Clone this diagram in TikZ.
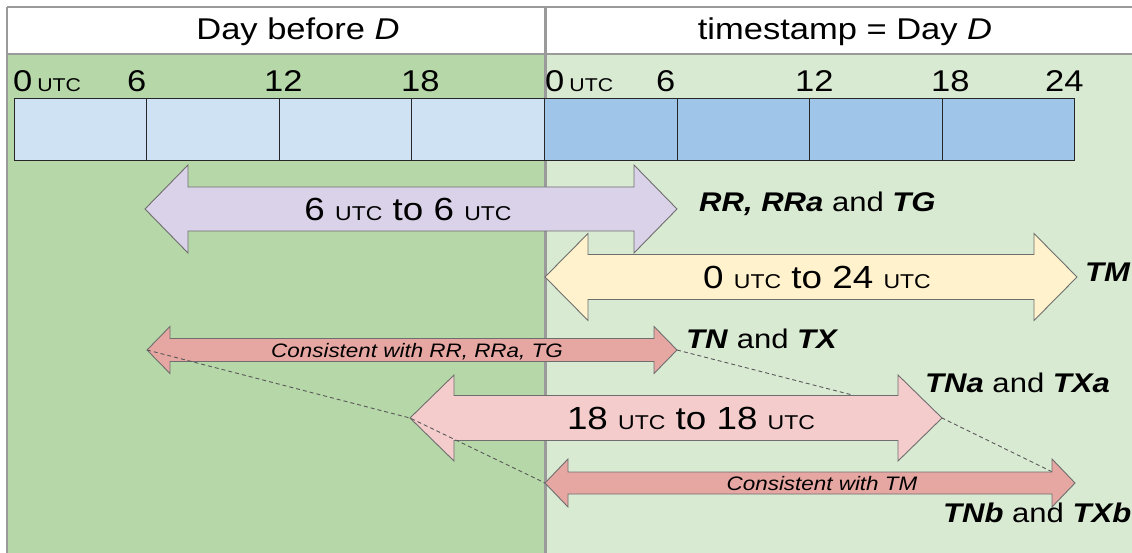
\documentclass[tikz,border=0pt]{standalone}
\usepackage{fontspec}
\setmainfont{Liberation Sans}[FakeStretch=1.15]
\definecolor{leftbg}{HTML}{B6D7A8}
\definecolor{rightbg}{HTML}{D9EAD3}
\definecolor{framegray}{HTML}{9A9A9A}
\definecolor{slotA}{HTML}{CFE2F3}
\definecolor{slotB}{HTML}{9FC5E8}
\definecolor{lilac}{HTML}{D9D2E9}
\definecolor{cream}{HTML}{FFF2CC}
\definecolor{pinkA}{HTML}{F4CCCC}
\definecolor{pinkB}{HTML}{E6A7A2}
\definecolor{edgegray}{HTML}{6E6E6E}
% double-headed block arrow: style, left tip x, right tip x, axis y, shaft half, head half, head length
\newcommand\dblarrow[7]{%
  \draw[#1] (#2,#4) -- (#2+#7,#4-#6) -- (#2+#7,#4-#5) -- (#3-#7,#4-#5)
    -- (#3-#7,#4-#6) -- (#3,#4) -- (#3-#7,#4+#6) -- (#3-#7,#4+#5)
    -- (#2+#7,#4+#5) -- (#2+#7,#4+#6) -- cycle;}
\newcommand\utc{{\fontsize{18.5}{18.5}\selectfont UTC}}
\newcommand\sutc{{\fontsize{20}{20}\selectfont UTC}}
\newcommand\bi[1]{\textbf{\textit{#1}}}
\tikzset{
  rule/.style={draw=framegray, line width=2.5pt},
  slot/.style={draw=black!85, line width=0.9pt},
  blockarrow/.style={draw=edgegray, line width=0.9pt, line join=miter},
  guide/.style={draw=black!65, line width=0.9pt, dash pattern=on 4pt off 3pt},
  hdr/.style={font=\fontsize{30}{30}\selectfont, inner sep=0pt, anchor=base},
  tick/.style={font=\fontsize{30}{30}\selectfont, inner sep=0pt, anchor=base west},
  span/.style={font=\fontsize{32}{32}\selectfont, inner sep=0pt, anchor=base},
  note/.style={font=\fontsize{19.5}{19.5}\selectfont\itshape, inner sep=0pt, anchor=base},
  tag/.style={font=\fontsize{27}{27}\selectfont, inner sep=0pt, anchor=base west},
}
\begin{document}
\begin{tikzpicture}[x=1pt, y=-1pt]
\useasboundingbox (0,0) rectangle (1132,553);
% backgrounds
\fill[white] (0,0) rectangle (1132,553);
\fill[leftbg] (7,54) rectangle (545,553);
\fill[rightbg] (545,54) rectangle (1132,553);
% frame
\draw[rule] (7,7) -- (1132,7);
\draw[rule] (7,54) -- (1132,54);
\draw[rule] (7,7) -- (7,553);
\draw[rule, line width=3pt] (545,7) -- (545,553);
% headers
\node[hdr] (dayprev) at (298,40) {Day before \textit{D}};
\node[hdr] (dayD) at (845,40) {timestamp = Day \textit{D}};
% hour slots
\foreach \i in {0,...,3} {
  \filldraw[slot, fill=slotA] ({14+\i*132.6},98) rectangle ({14+(\i+1)*132.6},160);
}
\foreach \i in {4,...,7} {
  \filldraw[slot, fill=slotB] ({14+\i*132.6},98) rectangle ({14+(\i+1)*132.6},160);
}
% hour labels
\node[tick] (t0a) at (13,92) {0\,\utc};
\node[tick] (t6a) at (127,92) {6};
\node[tick] (t12a) at (264,92) {12};
\node[tick] (t18a) at (401,92) {18};
\node[tick] (t0b) at (545,92) {0\,\utc};
\node[tick] (t6b) at (656,92) {6};
\node[tick] (t12b) at (795,92) {12};
\node[tick] (t18b) at (931,92) {18};
\node[tick] (t24b) at (1045,92) {24};
% arrow tips used by the guide lines
\coordinate (nL) at (147,350);  \coordinate (nR) at (677,350);
\coordinate (aL) at (410,418);  \coordinate (aR) at (942,418);
\coordinate (bL) at (545,483);  \coordinate (bR) at (1075,483);
% right guide lines run behind the arrows
\draw[guide] (nR) -- (aR) -- (bR);
% block arrows
\dblarrow{blockarrow, fill=lilac}{145}{677}{209}{22}{44}{43}
\dblarrow{blockarrow, fill=cream}{545}{1077}{277}{22.5}{43.5}{43}
\dblarrow{blockarrow, fill=pinkB}{147}{677}{350}{11.5}{23.5}{23}
\dblarrow{blockarrow, fill=pinkA}{410}{942}{418}{22.5}{43}{44}
\dblarrow{blockarrow, fill=pinkB}{545}{1075}{483}{11}{24}{23}
% left guide lines lie over the arrows
\draw[guide] (nL) -- (aL) -- (bL);
% arrow captions
\node[span] (s66) at (408,221) {6 \sutc{} to 6 \sutc};
\node[span] (s024) at (817,288) {0 \sutc{} to 24 \sutc};
\node[span] (s1818) at (691,429) {18 \sutc{} to 18 \sutc};
\node[note] (cRR) at (417,357) {Consistent with RR, RRa, TG};
\node[note] (cTM) at (822,490) {Consistent with TM};
% variable names
\node[tag] (vRR) at (699,212) {\bi{RR, RRa} and \bi{TG}};
\node[tag] (vTM) at (1085,281) {\bi{TM}};
\node[tag] (vTN) at (686,348) {\bi{TN} and \bi{TX}};
\node[tag] (vTNa) at (925,392) {\bi{TNa} and \bi{TXa}};
\node[tag] (vTNb) at (943,522) {\bi{TNb} and \bi{TXb}};
\end{tikzpicture}
\end{document}
